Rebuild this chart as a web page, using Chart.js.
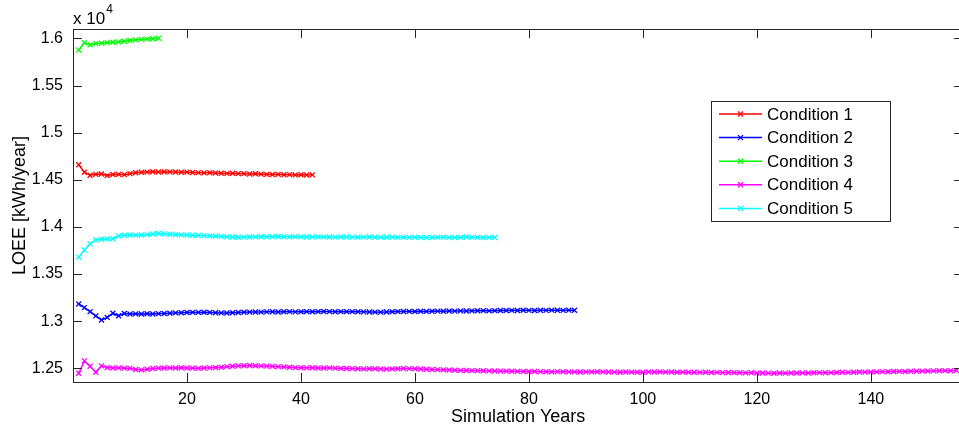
<!DOCTYPE html>
<html>
<head>
    <title>LOEE</title>
    <script src="https://cdn.jsdelivr.net/npm/chart.js"></script>
    <style>
        html, body { margin: 0; padding: 0; background: #fff; overflow: hidden; }
        #wrap { width: 959px; height: 431px; overflow: hidden; }
    </style>
</head>
<body>
<div id="wrap">
    <canvas id="grafica" width="968" height="431"></canvas>
</div>
<script>
    // LOEE por año de simulación (kWh/año)
    const condicion1 = [
        14660, 14580, 14548, 14558, 14562, 14545, 14556, 14558, 14555, 14565,
        14575, 14580, 14582, 14585, 14583, 14586, 14584, 14583, 14580, 14582,
        14578, 14576, 14574, 14575, 14572, 14570, 14568, 14570, 14566, 14565,
        14562, 14564, 14560, 14558, 14556, 14558, 14554, 14555, 14552, 14554,
        14551, 14553
    ];
    const condicion2 = [
        13183, 13144, 13101, 13056, 13013, 13040, 13084, 13058, 13082, 13076,
        13078, 13077, 13079, 13076, 13080, 13082, 13085, 13088, 13090, 13092,
        13094, 13093, 13095, 13093, 13090, 13088, 13087, 13090, 13092, 13095,
        13097, 13098, 13097, 13099, 13100, 13098, 13100, 13101, 13099, 13100,
        13102, 13100, 13101, 13103, 13102, 13100, 13101, 13102, 13101, 13100,
        13099, 13098, 13097, 13096, 13098, 13100, 13102, 13103, 13104, 13103,
        13105, 13104, 13106, 13107, 13106, 13108, 13107, 13109, 13108, 13110,
        13111, 13112, 13110, 13112, 13114, 13113, 13115, 13114, 13116, 13115,
        13114, 13116, 13115, 13117, 13116, 13115, 13117, 13116
    ];
    const condicion3 = [
        15877, 15955, 15932, 15945, 15950, 15955, 15960, 15963, 15970, 15978,
        15985, 15990, 15993, 15997, 16002
    ];
    const condicion4 = [
        12448, 12579, 12522, 12459, 12526, 12508, 12504, 12505, 12502, 12500,
        12488, 12484, 12490, 12498, 12502, 12504, 12505, 12503, 12506, 12504,
        12502, 12500, 12503, 12505, 12508, 12512, 12518, 12522, 12526, 12528,
        12530, 12528, 12526, 12524, 12521, 12518, 12515, 12512, 12508, 12506,
        12505, 12506, 12504, 12503, 12505, 12502, 12500, 12498, 12497, 12495,
        12494, 12496, 12495, 12493, 12492, 12494, 12496, 12498, 12497, 12495,
        12493, 12490, 12488, 12486, 12484, 12482, 12480, 12478, 12477, 12476,
        12475, 12474, 12473, 12472, 12471, 12470, 12469, 12468, 12467, 12466,
        12467, 12465, 12464, 12463, 12465, 12464, 12462, 12463, 12461, 12462,
        12463, 12464, 12462, 12461, 12460, 12459, 12461, 12460, 12458, 12459,
        12462, 12461, 12463, 12460, 12461, 12459, 12460, 12458, 12459, 12457,
        12458, 12456, 12457, 12455, 12456, 12454, 12453, 12452, 12453, 12451,
        12450, 12449, 12448, 12450, 12449, 12451, 12450, 12452, 12451, 12453,
        12454, 12453, 12455, 12456, 12458, 12457, 12459, 12461, 12460, 12462,
        12463, 12465, 12464, 12466, 12468, 12467, 12469, 12470, 12471, 12472,
        12473, 12474, 12475, 12474, 12476
    ];
    const condicion5 = [
        13680, 13755, 13820, 13862, 13870, 13872, 13875, 13905, 13912, 13914,
        13913, 13915, 13918, 13925, 13930, 13926, 13922, 13920, 13916, 13915,
        13912, 13910, 13908, 13905, 13902, 13898, 13895, 13893, 13890, 13892,
        13893, 13895, 13896, 13895, 13897, 13898, 13896, 13895, 13897, 13895,
        13893, 13894, 13895, 13894, 13893, 13892, 13893, 13894, 13892, 13891,
        13892, 13893, 13891, 13890, 13891, 13892, 13890, 13889, 13890, 13891,
        13889, 13888, 13889, 13890, 13891, 13889, 13888, 13889, 13893, 13890,
        13889, 13888, 13889, 13888
    ];

    const etiquetas = ['Condition 1', 'Condition 2', 'Condition 3', 'Condition 4', 'Condition 5'];
    const colores = ['#ff0000', '#0000ff', '#00ff00', '#ff00ff', '#00ffff'];
    const ticksX = [20, 40, 60, 80, 100, 120, 140];
    const ticksY = [12500, 13000, 13500, 14000, 14500, 15000, 15500, 16000];

    const FUENTE = "'Liberation Sans', Arial, sans-serif";
    const EJE = '#262626';

    // año 1..n para cada serie
    function puntos(serie) {
        return serie.map((v, i) => ({ x: i + 1, y: v }));
    }

    const series = [condicion1, condicion2, condicion3, condicion4, condicion5];
    const datasets = series.map((s, i) => ({
        label: etiquetas[i],
        data: puntos(s),
        borderColor: colores[i],
        backgroundColor: colores[i],
        borderWidth: 1.5,
        pointStyle: 'crossRot',
        pointRadius: 3.5,
        pointBorderWidth: 1.3,
        pointHoverRadius: 3.5,
        tension: 0
    }));

    // caja de ejes estilo matlab, ticks hacia dentro, leyenda y factor x 10^4
    const cajaEjes = {
        id: 'cajaEjes',
        afterDatasetsDraw(chart) {
            const ctx = chart.ctx;
            const a = chart.chartArea;
            const sx = chart.scales.x, sy = chart.scales.y;
            const largo = 9;
            ctx.save();
            ctx.strokeStyle = EJE;
            ctx.lineWidth = 1;
            ctx.beginPath();
            ticksX.forEach(v => {
                const px = Math.round(sx.getPixelForValue(v)) + 0.5;
                ctx.moveTo(px, a.bottom); ctx.lineTo(px, a.bottom - largo);
                ctx.moveTo(px, a.top); ctx.lineTo(px, a.top + largo);
            });
            ticksY.forEach(v => {
                const py = Math.round(sy.getPixelForValue(v)) + 0.5;
                ctx.moveTo(a.left, py); ctx.lineTo(a.left + largo, py);
                ctx.moveTo(a.right, py); ctx.lineTo(a.right - largo, py);
            });
            ctx.stroke();
            ctx.strokeRect(Math.round(a.left) + 0.5, Math.round(a.top) + 0.5,
                Math.round(a.right - a.left), Math.round(a.bottom - a.top));

            // factor de escala
            ctx.fillStyle = '#000';
            ctx.textBaseline = 'alphabetic';
            ctx.textAlign = 'left';
            ctx.font = '17px ' + FUENTE;
            ctx.fillText('x 10', a.left, a.top - 5);
            const w = ctx.measureText('x 10').width;
            ctx.font = '12px ' + FUENTE;
            ctx.fillText('4', a.left + w + 1, a.top - 16);

            // leyenda
            const lx = 711.5, ly = 101.5, lw = 179, lh = 120;
            ctx.fillStyle = '#fff';
            ctx.fillRect(lx, ly, lw, lh);
            ctx.strokeStyle = EJE;
            ctx.strokeRect(lx, ly, lw, lh);
            ctx.font = '17px ' + FUENTE;
            ctx.textBaseline = 'middle';
            chart.data.datasets.forEach((ds, i) => {
                const y = 114 + i * 23.6;
                ctx.strokeStyle = ds.borderColor;
                ctx.lineWidth = 1.5;
                ctx.beginPath();
                ctx.moveTo(719, y); ctx.lineTo(762, y);
                ctx.stroke();
                ctx.lineWidth = 1.3;
                ctx.beginPath();
                ctx.moveTo(738, y - 2.5); ctx.lineTo(743, y + 2.5);
                ctx.moveTo(738, y + 2.5); ctx.lineTo(743, y - 2.5);
                ctx.stroke();
                ctx.fillStyle = '#000';
                ctx.fillText(ds.label, 767, y + 1);
            });
            ctx.restore();
        }
    };

    const grafica = new Chart(document.getElementById('grafica'), {
        type: 'line',
        data: { datasets: datasets },
        options: {
            responsive: false,
            animation: false,
            devicePixelRatio: 1,
            layout: { padding: { top: 29, right: 0, left: 0, bottom: 0 } },
            plugins: {
                legend: { display: false },
                tooltip: { enabled: false }
            },
            scales: {
                x: {
                    type: 'linear',
                    min: 0,
                    max: 156.2,
                    grid: { display: false },
                    border: { display: false },
                    afterBuildTicks: s => { s.ticks = ticksX.map(v => ({ value: v })); },
                    afterFit: s => { s.height = 49; },
                    ticks: {
                        color: '#000',
                        padding: 0,
                        maxRotation: 0,
                        font: { family: FUENTE, size: 16 }
                    },
                    title: {
                        display: true,
                        text: 'Simulation Years',
                        color: '#000',
                        padding: { top: 0, bottom: 3 },
                        font: { family: FUENTE, size: 18 }
                    }
                },
                y: {
                    min: 12355,
                    max: 16100,
                    grid: { display: false },
                    border: { display: false },
                    afterBuildTicks: s => { s.ticks = ticksY.map(v => ({ value: v })); },
                    afterFit: s => { s.width = 73; },
                    ticks: {
                        color: '#000',
                        padding: 2,
                        font: { family: FUENTE, size: 16 },
                        callback: v => String(+(v / 10000).toFixed(2))
                    },
                    title: {
                        display: true,
                        text: 'LOEE [kWh/year]',
                        color: '#000',
                        padding: { top: 9, bottom: 0 },
                        font: { family: FUENTE, size: 18 }
                    }
                }
            }
        },
        plugins: [cajaEjes]
    });
</script>
</body>
</html>
